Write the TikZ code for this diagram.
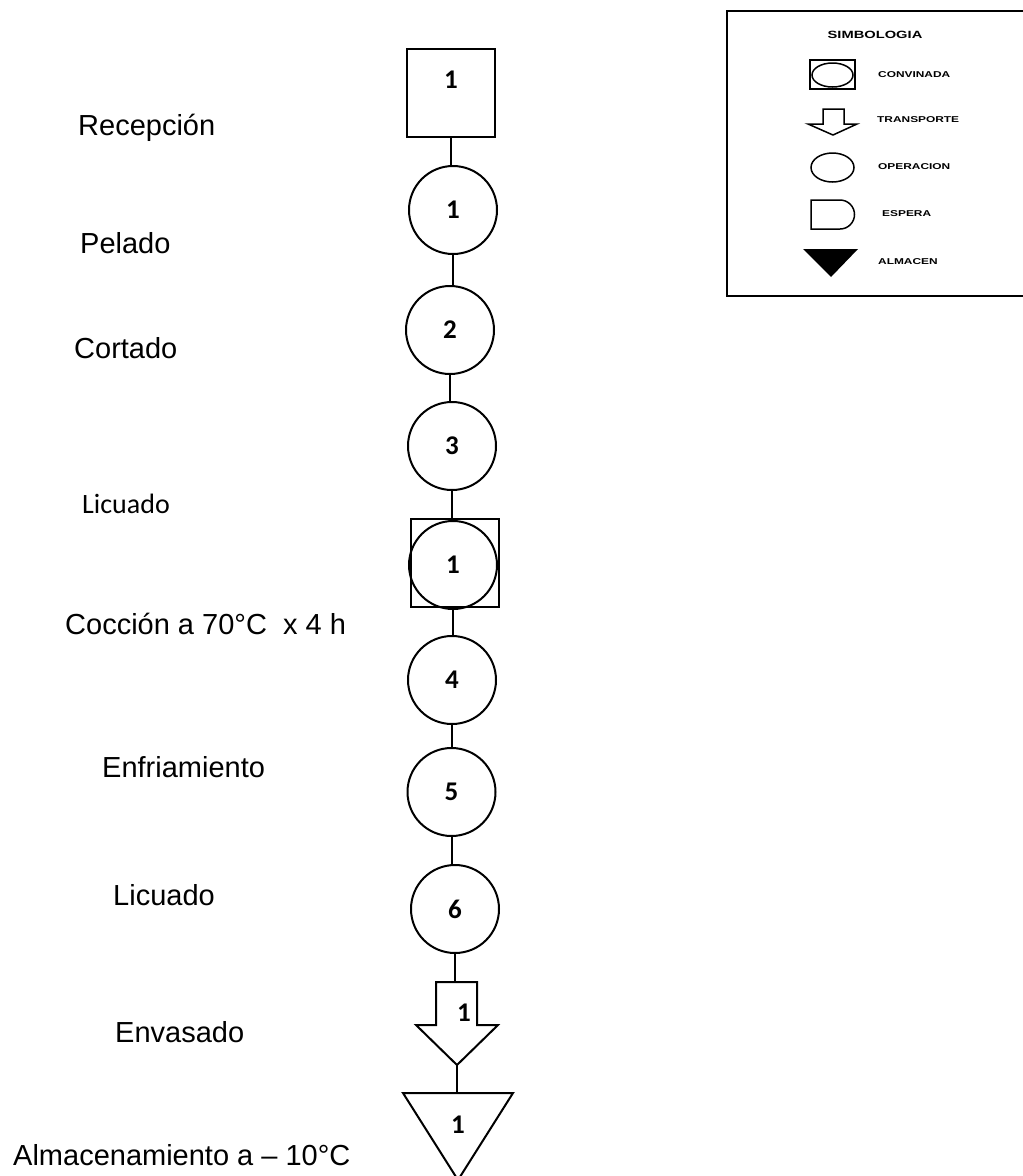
\documentclass[tikz,border=0pt]{standalone}
\usepackage{fontspec}
\setmainfont{Liberation Sans}
\newfontfamily\calib{Carlito}
\usetikzlibrary{calc}
\begin{document}
\begin{tikzpicture}[x=1pt,y=-1pt,line join=miter,
  shp/.style={draw,line width=2pt,fill=white,inner sep=0pt},
  opc/.style={shp,circle,minimum size=88pt,font=\calib\bfseries\fontsize{27}{30}\selectfont},
  sqr/.style={shp,rectangle,minimum size=88pt},
  num/.style={font=\calib\bfseries\fontsize{27}{30}\selectfont,inner sep=0pt},
  link/.style={line width=2pt},
  stepname/.style={anchor=base west,inner sep=0pt,font=\fontsize{29}{34}\selectfont},
  legtxt/.style={anchor=west,inner sep=0pt,font=\bfseries\fontsize{8.5}{10}\selectfont},
  legshp/.style={line width=1.5pt}]
\useasboundingbox (0,0) rectangle (1023,1176);

% ---- legend ----
\draw[line width=1.5pt] (727,11) rectangle (1040,296);
\node[inner sep=0pt,font=\bfseries\fontsize{10.5}{12}\selectfont] (legtitle) at (875,35) {\scalebox{1.4}[1]{SIMBOLOGIA}};
\draw[legshp] (810,60) rectangle (855,89);
\draw[legshp] (832.5,75) ellipse [x radius=20.5, y radius=12];
\node[legtxt] (lg1) at (878,74.5) {\scalebox{1.4}[1]{CONVINADA}};
\draw[legshp] (823,109) -- (844,109) -- (844,124) -- (857,124) -- (833,135)
  -- (808,124) -- (823,124) -- cycle;
\node[legtxt] (lg2) at (877,120) {\scalebox{1.4}[1]{TRANSPORTE}};
\draw[legshp] (832.5,167.5) ellipse [x radius=21.5, y radius=14.5];
\node[legtxt] (lg3) at (878,167) {\scalebox{1.4}[1]{OPERACION}};
\draw[legshp] (811,200) -- (840,200) arc[start angle=-90,end angle=90,radius=14.5]
  -- (811,229) -- cycle;
\node[legtxt] (lg4) at (882,214) {\scalebox{1.4}[1]{ESPERA}};
\fill (803,249) -- (858,249) -- (831,277) -- cycle;
\node[legtxt] (lg5) at (878,262) {\scalebox{1.4}[1]{ALMACEN}};

% ---- process chart ----
\node[sqr] (rec) at (451,93) {};
\node[num] at ([yshift=13pt]rec.center) {1};
\node[opc] (op1) at (453,210) {1};
\node[opc] (op2) at (450,330) {2};
\node[opc] (op3) at (452,446) {3};
\node[sqr] (combsq) at (455,563) {};
\node[opc,fill=none] (comb) at (453,565) {1};
\node[opc] (op4) at (452,680) {4};
\node[opc] (op5) at (451.5,792) {5};
\node[opc] (op6) at (455,909) {6};

% transport arrow
\coordinate (trtop) at (456.5,982);
\coordinate (trtip) at (457,1065);
\draw[shp] (436,982) -- (477,982) -- (477,1025) -- (498,1025) -- (trtip)
  -- (416,1025) -- (436,1025) -- cycle;
\node[num] (trn) at (464,1013) {1};

% storage triangle
\coordinate (sttop) at (458,1093);
\draw[shp] (403,1093) -- (513,1093) -- (458,1180) -- cycle;
\node[num] (stn) at (458,1125) {1};

% connectors
\draw[link] (rec.south) -- (rec.south |- op1.north);
\draw[link] (op1.south) -- (op1.south |- op2.north);
\draw[link] (op2.south) -- (op2.south |- op3.north);
\draw[link] (op3.south) -- (op3.south |- combsq.north);
\draw[link] (comb.south) -- (comb.south |- op4.north);
\draw[link] (op4.south) -- (op4.south |- op5.north);
\draw[link] (op5.south) -- (op5.south |- op6.north);
\draw[link] (op6.south) -- (op6.south |- trtop);
\draw[link] (trtip) -- (trtip |- sttop);

% step names
\node[stepname] (s1) at (78,135) {Recepción};
\node[stepname] (s2) at (80,253) {Pelado};
\node[stepname] (s3) at (74,358) {Cortado};
\node[stepname,font=\calib\fontsize{28}{32}\selectfont] (s4) at (82,513) {Licuado};
\node[stepname] (s5) at (65,634) {Cocción a 70°C~~x 4 h};
\node[stepname] (s6) at (102,777) {Enfriamiento};
\node[stepname] (s7) at (113,905) {Licuado};
\node[stepname] (s8) at (115,1042) {Envasado};
\node[stepname] (s9) at (13,1165) {Almacenamiento a – 10°C};
\end{tikzpicture}
\end{document}
